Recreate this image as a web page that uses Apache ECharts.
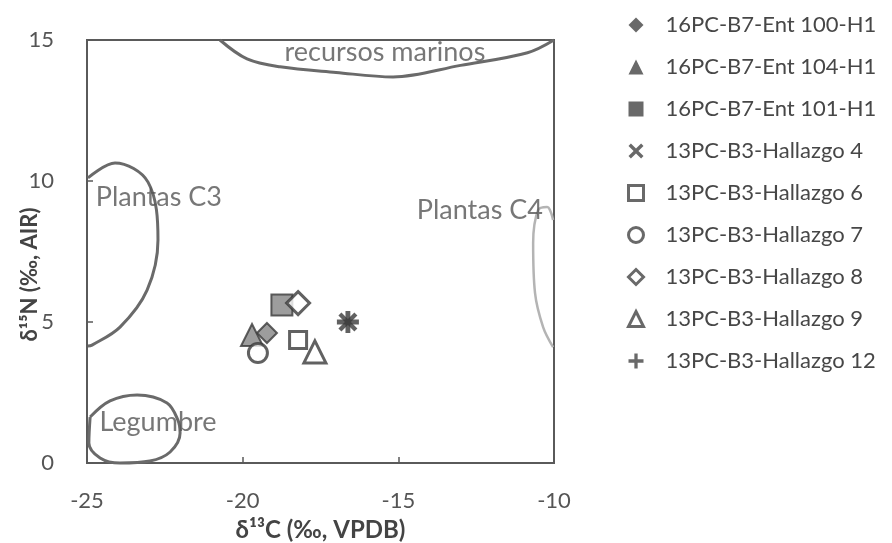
<!DOCTYPE html>
<html>
<head>
<meta charset="utf-8">
<script src="https://cdn.jsdelivr.net/npm/echarts@6/dist/echarts.min.js"></script>
<style>
  html, body { margin: 0; padding: 0; background: #ffffff; }
  #chart { width: 892px; height: 543px; }
</style>
</head>
<body>
<div id="chart"></div>
<script>
// Axis ranges and ticks (δ13C on x, δ15N on y)
const xMin = -25, xMax = -10, xStep = 5;
const yMin = 0, yMax = 15, yStep = 5;

// Sample names, in legend order
const sampleNames = [
  '16PC-B7-Ent 100-H1',
  '16PC-B7-Ent 104-H1',
  '16PC-B7-Ent 101-H1',
  '13PC-B3-Hallazgo 4',
  '13PC-B3-Hallazgo 6',
  '13PC-B3-Hallazgo 7',
  '13PC-B3-Hallazgo 8',
  '13PC-B3-Hallazgo 9',
  '13PC-B3-Hallazgo 12'
];

// Measured values [δ13C, δ15N] for each sample
const ent100 = [[-19.22, 4.61]];
const ent104 = [[-19.70, 4.54]];
const ent101 = [[-18.74, 5.60]];
const hallazgo4 = [[-16.62, 5.00]];
const hallazgo6 = [[-18.22, 4.36]];
const hallazgo7 = [[-19.51, 3.90]];
const hallazgo8 = [[-18.22, 5.67]];
const hallazgo9 = [[-17.68, 3.94]];
const hallazgo12 = [[-16.62, 5.00]];

// Reference food-source envelopes
const marineOutline = [[-20.73, 15.0], [-19.86, 14.33], [-18.8, 14.05], [-17.0, 13.85], [-15.17, 13.69], [-13.0, 14.1], [-10.85, 14.55], [-10.0, 15.0]];
const c3Outline = [[-24.97, 10.11], [-24.10, 10.64], [-23.04, 9.96], [-22.72, 7.91], [-23.07, 6.13], [-23.94, 4.82], [-24.84, 4.18], [-24.97, 4.15]];
const c4Outline = [[-10.03, 8.62], [-10.22, 9.08], [-10.51, 8.97], [-10.67, 7.80], [-10.61, 6.03], [-10.35, 4.82], [-10.03, 4.11]];
const legumeOutline = [[-24.90, 1.63], [-24.26, 2.20], [-23.39, 2.41], [-22.43, 2.13], [-22.08, 1.52], [-22.01, 1.06], [-22.33, 0.39], [-22.98, 0.07], [-23.94, 0.0], [-24.58, 0.18], [-24.94, 0.71], [-24.90, 1.63]];

// Envelope captions and their anchor points
const regionLabels = ['recursos marinos', 'Plantas C3', 'Plantas C4', 'Legumbre'];
const regionLabelPos = [[-15.43, 14.57], [-22.69, 9.43], [-12.38, 8.97], [-22.72, 1.45]];

const FONT = 'Lato, "Open Sans", sans-serif';
const INK = '#3a3a3a';
const FILL = '#858585';

const crossPath = 'path://M1.6,0 L5,3.4 L8.4,0 L10,1.6 L6.6,5 L10,8.4 L8.4,10 L5,6.6 L1.6,10 L0,8.4 L3.4,5 L0,1.6 Z';
const plusPath = 'path://M3.9,0 H6.1 V3.9 H10 V6.1 H6.1 V10 H3.9 V6.1 H0 V3.9 H3.9 Z';

const sampleStyles = [
  { data: ent100, symbol: 'diamond', size: 20, filled: true },
  { data: ent104, symbol: 'triangle', size: 22, filled: true },
  { data: ent101, symbol: 'rect', size: 21, filled: true },
  { data: hallazgo4, symbol: crossPath, size: 19, filled: true },
  { data: hallazgo6, symbol: 'rect', size: 17, filled: false },
  { data: hallazgo7, symbol: 'circle', size: 19, filled: false },
  { data: hallazgo8, symbol: 'diamond', size: 23, filled: false },
  { data: hallazgo9, symbol: 'triangle', size: 22, filled: false },
  { data: hallazgo12, symbol: plusPath, size: 22, filled: true }
];

function outlineSeries(data, color, width) {
  return {
    type: 'line',
    data: data,
    smooth: 0.35,
    symbol: 'none',
    silent: true,
    z: 1,
    lineStyle: { color: color, width: width },
    clip: false
  };
}

const series = [
  outlineSeries(marineOutline, '#6a6a6a', 3),
  outlineSeries(c3Outline, '#6a6a6a', 3),
  outlineSeries(c4Outline, '#b4b4b4', 2.5),
  outlineSeries(legumeOutline, '#6a6a6a', 3),
  {
    type: 'scatter',
    silent: true,
    symbolSize: 0,
    z: 2,
    data: regionLabels.map((name, i) => ({ name: name, value: regionLabelPos[i] })),
    label: {
      show: true,
      position: 'inside',
      formatter: '{b}',
      fontFamily: FONT,
      fontSize: 27,
      color: '#555555'
    }
  }
];

sampleNames.forEach((name, i) => {
  const s = sampleStyles[i];
  const solidMark = s.symbol === crossPath || s.symbol === plusPath;
  series.push({
    name: name,
    type: 'scatter',
    data: s.data,
    symbol: s.symbol,
    symbolSize: s.size,
    z: 3,
    itemStyle: s.filled
      ? { color: solidMark ? INK : FILL, borderColor: INK, borderWidth: solidMark ? 0 : 2 }
      : { color: '#ffffff', borderColor: INK, borderWidth: 3 }
  });
});

const legendData = sampleNames.map((name, i) => {
  const s = sampleStyles[i];
  return {
    name: name,
    itemStyle: s.filled
      ? { color: '#444444', borderColor: '#444444', borderWidth: 0 }
      : { color: '#ffffff', borderColor: '#444444', borderWidth: 3 }
  };
});

const chart = echarts.init(document.getElementById('chart'));
chart.setOption({
  backgroundColor: '#ffffff',
  animation: false,
  grid: {
    left: 87, right: 338, top: 40, bottom: 80,
    show: true, borderColor: '#5a5a5a', borderWidth: 2,
    outerBoundsMode: 'none'
  },
  legend: {
    orient: 'vertical',
    left: 622,
    top: 9,
    itemWidth: 15,
    itemHeight: 15,
    itemGap: 20,
    data: legendData,
    textStyle: { fontFamily: FONT, fontSize: 22, lineHeight: 22, color: '#474747', padding: [0, 0, 0, 17] }
  },
  xAxis: {
    type: 'value',
    min: xMin, max: xMax, interval: xStep,
    name: 'δ¹³C (‰, VPDB)',
    nameLocation: 'middle',
    nameGap: 55,
    nameMoveOverlap: false,
    nameTextStyle: { fontFamily: FONT, fontSize: 24, fontWeight: 'bold', color: '#444444' },
    axisLine: { lineStyle: { color: '#5a5a5a', width: 2 } },
    axisTick: { inside: true, length: 6, lineStyle: { color: '#5a5a5a', width: 1.5 } },
    axisLabel: { margin: 27, fontFamily: FONT, fontSize: 22, color: '#555555' },
    splitLine: { show: false }
  },
  yAxis: {
    type: 'value',
    min: yMin, max: yMax, interval: yStep,
    name: 'δ¹⁵N (‰, AIR)',
    nameLocation: 'middle',
    nameGap: 46,
    nameMoveOverlap: false,
    nameTextStyle: { fontFamily: FONT, fontSize: 22, fontWeight: 'bold', color: '#444444', padding: [0, 46, 0, 0] },
    axisLine: { lineStyle: { color: '#5a5a5a', width: 2 } },
    axisTick: { inside: true, length: 6, lineStyle: { color: '#5a5a5a', width: 1.5 } },
    axisLabel: { margin: 33, fontFamily: FONT, fontSize: 22, color: '#555555' },
    splitLine: { show: false }
  },
  series: series
});
</script>
</body>
</html>
